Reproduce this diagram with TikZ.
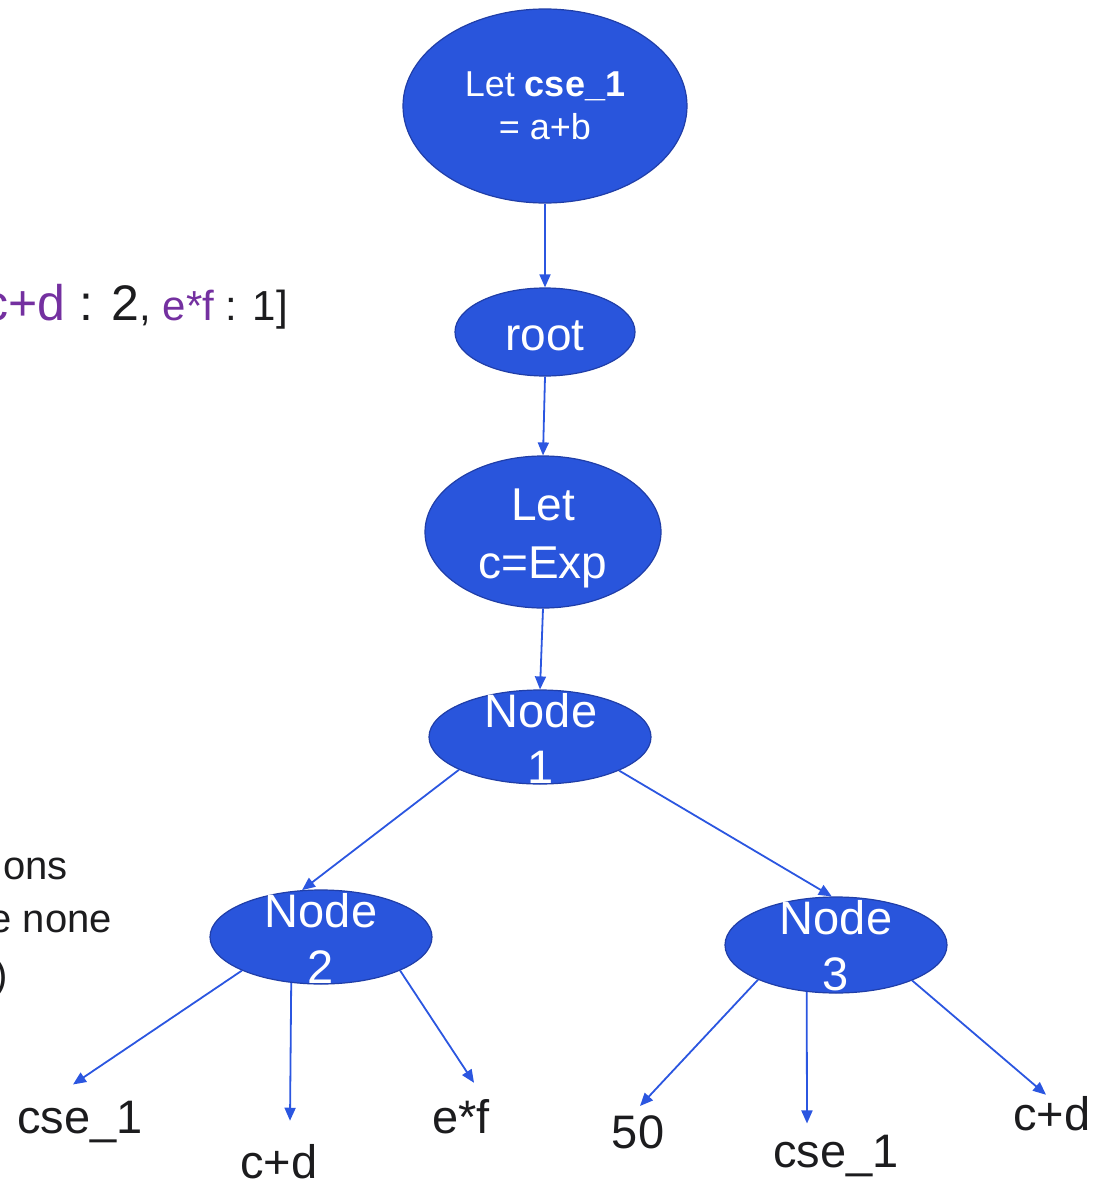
\documentclass[tikz,border=0pt]{standalone}
\usepackage{fontspec}
\setmainfont{Liberation Sans}
\usetikzlibrary{shapes.geometric,arrows.meta}
\definecolor{nodeblue}{RGB}{41,85,220}
\definecolor{nodeedge}{RGB}{32,62,168}
\definecolor{edgeblue}{RGB}{43,86,224}
\definecolor{purp}{RGB}{116,48,160}
\definecolor{ink}{RGB}{28,28,30}
\begin{document}
\begin{tikzpicture}[x=1pt,y=-1pt,
  bubble/.style={ellipse, draw=nodeedge, fill=nodeblue, line width=1.2pt, inner sep=0},
  btext/.style={text=white, align=center, inner sep=0},
  leaf/.style={text=ink, inner sep=0, anchor=base, font=\fontsize{47}{56}\selectfont},
  side/.style={text=ink, inner sep=0, anchor=base east, font=\fontsize{40}{48}\selectfont},
  conn/.style={draw=edgeblue, line width=1.8pt, -{Triangle[length=13pt,width=11pt]}},
]
\useasboundingbox (0,0) rectangle (1094,1180);
\begin{scope}
\clip (0,0) rectangle (1094,1180);

% partial texts on the left (cut off at the edge, as in the reference)
\node[text=ink, inner sep=0, anchor=base west] (lt) at (-17,320)
  {\fontsize{50}{60}\selectfont\textcolor{purp}{c+d} : 2\fontsize{42}{50}\selectfont, \textcolor{purp}{e*f} : 1]};
\node[side] (s1) at (68,879) {ons};
\node[side] (s2) at (112,932) {e none};
\node[side] (s3) at (8,988) {)};

% ellipses
\node[bubble, minimum width=284pt, minimum height=194pt] (t) at (545,106) {};
\node[bubble, minimum width=180pt, minimum height=88pt] (root) at (545,332) {};
\node[bubble, minimum width=236pt, minimum height=152pt] (let) at (543,532) {};
\node[bubble, minimum width=222pt, minimum height=94pt] (n1) at (540,737) {};
\node[bubble, minimum width=222pt, minimum height=94pt] (n2) at (321,937) {};
\node[bubble, minimum width=222pt, minimum height=96pt] (n3) at (836,945) {};

% texts in ellipses
\node[btext, font=\fontsize{36}{43}\selectfont] (tt) at (545,106) {Let \textbf{cse\_1}\\= a+b};
\node[btext, font=\fontsize{46}{56}\selectfont, anchor=base] (roott) at (545,350) {root};
\node[btext, font=\fontsize{46}{58}\selectfont] (lett) at (543,538) {Let\\c=Exp};
\node[btext, font=\fontsize{47}{56}\selectfont] (n1t) at (541,738) {Node\\1};
\node[btext, font=\fontsize{47}{56}\selectfont] (n2t) at (321,938) {Node\\2};
\node[btext, font=\fontsize{47}{56}\selectfont] (n3t) at (836,946) {Node\\3};

% leaves
\node[leaf] (l1) at (80,1133) {cse\_1};
\node[leaf] (l2) at (279,1178) {c+d};
\node[leaf] (l3) at (461,1133) {e*f};
\node[leaf] (l4) at (638,1148) {50};
\node[leaf] (l5) at (836,1167) {cse\_1};
\node[leaf] (l6) at (1052,1130) {c+d};

% connectors
\draw[conn] (t.south) -- (root.north);
\draw[conn] (root.south) -- (let.north);
\draw[conn] (let.south) -- (n1.north);
\draw[conn] (n1.202) -- (n2.112);
\draw[conn] (n1.337) -- (n3.95);
\draw[conn] (n2.203) -- ([xshift=-7pt,yshift=16pt]l1.north);
\draw[conn] (n2.237) -- ([xshift=11pt,yshift=23pt]l2.north);
\draw[conn] (n2.337) -- ([xshift=13pt,yshift=16pt]l3.north);
\draw[conn] (n3.204) -- ([xshift=2pt,yshift=9pt]l4.north);
\draw[conn] (n3.238) -- ([xshift=-29pt,yshift=11pt]l5.north);
\draw[conn] (n3.335) -- ([xshift=-6pt,yshift=1pt]l6.north);
\end{scope}
\end{tikzpicture}
\end{document}
